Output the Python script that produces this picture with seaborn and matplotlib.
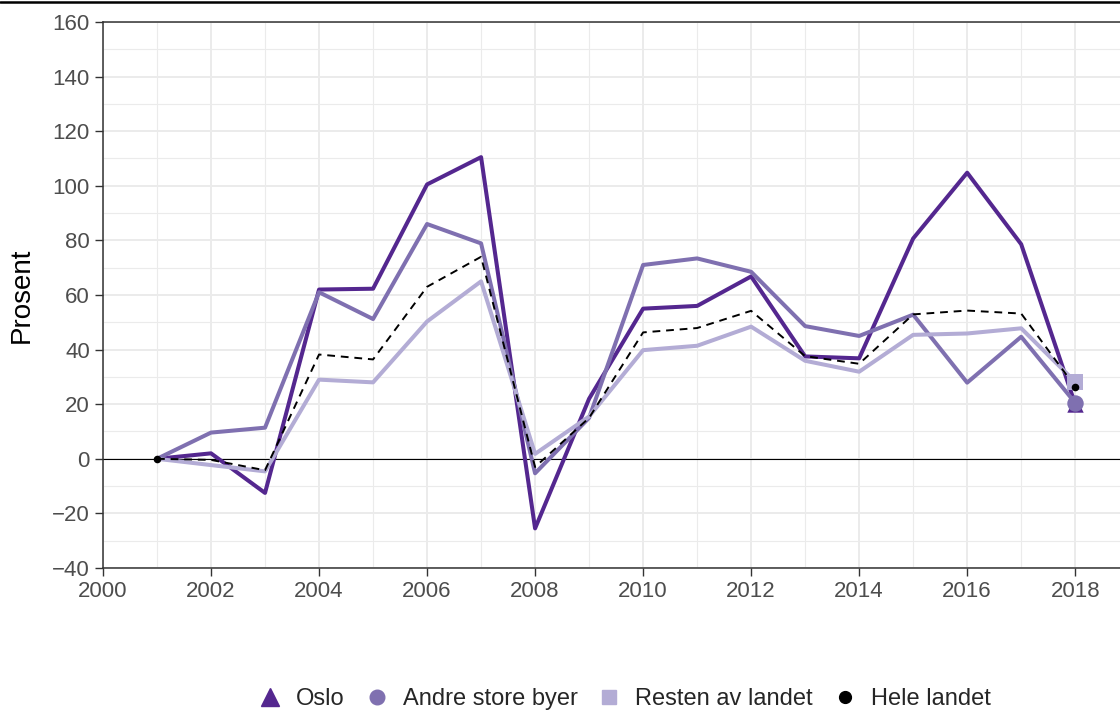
import pandas as pd
import numpy as np
import matplotlib
matplotlib.use('Agg')
import matplotlib.pyplot as plt
import seaborn as sns
from matplotlib.lines import Line2D
from matplotlib.ticker import MultipleLocator

years = list(range(2001, 2019))
oslo = [0, 2, -12.5, 62, 62.3, 100.5, 110.5, -25.5, 22, 55, 56, 66.8, 37.5, 36.8, 80.7, 104.8, 78.6, 20]
andre = [0, 9.6, 11.4, 61, 51.2, 86, 78.9, -5.3, 15, 71, 73.4, 68.5, 48.6, 45, 52.8, 27.9, 44.7, 20.5]
resten = [0, -2.3, -4.6, 29, 28, 50.3, 65, 1.8, 15.5, 39.8, 41.4, 48.4, 35.9, 31.9, 45.4, 45.9, 47.8, 28.2]
hele = [0, -0.4, -4.2, 38.2, 36.4, 63, 74, -3, 15, 46.3, 47.9, 54.2, 37.6, 34.8, 52.9, 54.3, 53.2, 26.4]

names = ['Oslo', 'Andre store byer', 'Resten av landet', 'Hele landet']
colors = ['#54278f', '#7f70b0', '#b3acd5', '#000000']
markers = ['^', 'o', 's', 'o']

df = pd.DataFrame({'year': years * 4,
                   'value': oslo + andre + resten + hele,
                   'group': sum([[n] * len(years) for n in names], [])})

sns.set_theme(style='white')
plt.rcParams['font.family'] = ['Liberation Sans', 'DejaVu Sans']

fig = plt.figure(figsize=(11.2, 7.11), dpi=100)
ax = fig.add_axes([103 / 1120, 1 - 568 / 711, (1140 - 103) / 1120, 546 / 711])

palette = dict(zip(names, colors))
for n in names:
    d = df[df['group'] == n]
    if n == 'Hele landet':
        sns.lineplot(data=d, x='year', y='value', ax=ax, color=palette[n], linewidth=1.4,
                     linestyle=(0, (4, 3)), legend=False, zorder=3)
    else:
        sns.lineplot(data=d, x='year', y='value', ax=ax, color=palette[n], linewidth=2.9,
                     legend=False, zorder=3)

# endpoint markers
last = df[df['year'] == years[-1]]
for n, m in zip(names, markers):
    d = last[last['group'] == n]
    s = 30 if n == 'Hele landet' else 140
    sns.scatterplot(data=d, x='year', y='value', ax=ax, color=palette[n], marker=m,
                    s=s, linewidth=0, legend=False, zorder=4)
first = df[(df['year'] == years[0]) & (df['group'] == 'Hele landet')]
sns.scatterplot(data=first, x='year', y='value', ax=ax, color='black', s=30,
                linewidth=0, legend=False, zorder=4)

ax.axhline(0, color='black', linewidth=0.8, zorder=2)

ax.set_xlim(2000, 2019.2)
ax.set_ylim(-40, 160)
ax.xaxis.set_major_locator(MultipleLocator(2))
ax.xaxis.set_minor_locator(MultipleLocator(1))
ax.yaxis.set_major_locator(MultipleLocator(20))
ax.yaxis.set_minor_locator(MultipleLocator(10))
ax.set_yticks(ax.get_yticks())
ax.set_yticklabels([str(int(v)).replace('-', '\u2212') for v in ax.get_yticks()])
ax.set_ylim(-40, 160)
ax.grid(which='major', color='#ebebeb', linewidth=1.4, zorder=0)
ax.grid(which='minor', color='#ebebeb', linewidth=0.8, zorder=0)
ax.set_axisbelow(True)

for side in ['left', 'bottom', 'top']:
    ax.spines[side].set_color('#333333')
    ax.spines[side].set_linewidth(1.1)
ax.spines['right'].set_visible(False)
ax.tick_params(axis='both', which='major', direction='out', length=5.5, width=1,
               color='#333333', labelsize=16, labelcolor='#4d4d4d', bottom=True, left=True, pad=4)
ax.tick_params(which='minor', length=0)
ax.set_xlabel('')
ax.set_ylabel('Prosent', fontsize=20, color='black')
ax.yaxis.set_label_coords(-0.066, 0.5)

handles = [Line2D([], [], color=c, marker=m, linestyle='none',
                  markersize=(8.5 if n == 'Hele landet' else (13 if m == '^' else 10.5)))
           for n, c, m in zip(names, colors, markers)]
fig.legend(handles, names, loc='center', bbox_to_anchor=(0.5576, 0.017), ncol=4,
           frameon=False, fontsize=17, handlelength=1.0, handletextpad=0.6, columnspacing=0.85)

fig.add_artist(Line2D([0, 1], [1 - 2 / 711, 1 - 2 / 711], color='black', linewidth=1.8,
                      transform=fig.transFigure))

fig.savefig('out.png', dpi=100)
